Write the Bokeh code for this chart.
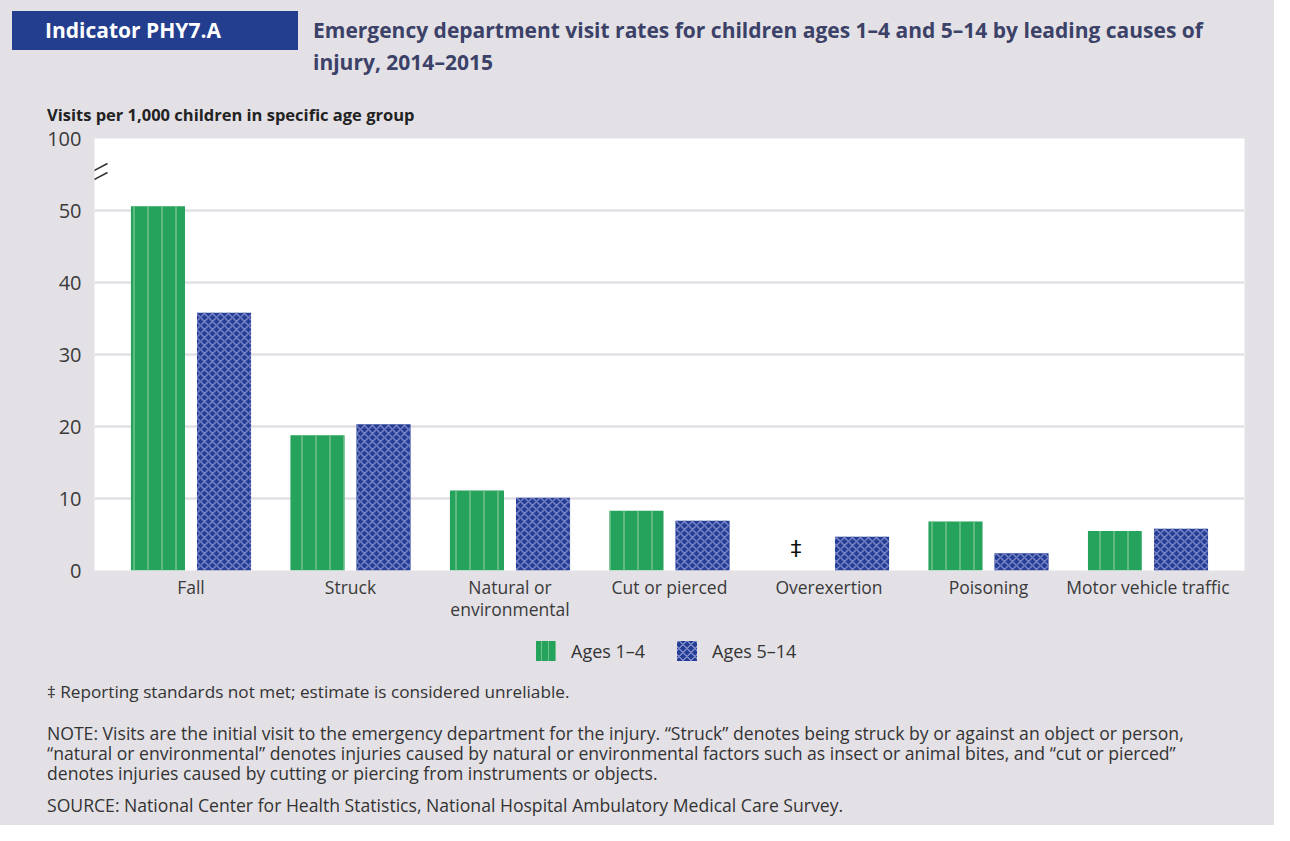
from bokeh.plotting import figure
from bokeh.layouts import column
from bokeh.models import FixedTicker, Arrow, ColumnDataSource, Div, LinearAxis
from bokeh.core.properties import value
from bokeh.embed import file_html
from bokeh.resources import INLINE

# ---------------- data ----------------
categories = ["Fall", "Struck", "Natural or\nenvironmental", "Cut or pierced",
              "Overexertion", "Poisoning", "Motor vehicle traffic"]
ages_1_4 = [50.6, 18.8, 11.1, 8.3, None, 6.8, 5.5]
ages_5_14 = [35.8, 20.3, 10.1, 6.9, 4.7, 2.4, 5.8]
series_names = ["Ages 1\u20134", "Ages 5\u201314"]
y_ticks = [0, 10, 20, 30, 40, 50, 60]
y_tick_labels = ["0", "10", "20", "30", "40", "50", "100"]
unreliable_mark = "\u2021"

header_label = "Indicator PHY7.A"
title_lines = ["Emergency department visit rates for children ages 1\u20134 and 5\u201314 by leading causes of",
               "injury, 2014\u20132015"]
y_title = "Visits per 1,000 children in specific age group"
footnote = "\u2021 Reporting standards not met; estimate is considered unreliable."
note_lines = [
    "NOTE: Visits are the initial visit to the emergency department for the injury. \u201cStruck\u201d denotes being struck by or against an object or person,",
    "\u201cnatural or environmental\u201d denotes injuries caused by natural or environmental factors such as insect or animal bites, and \u201ccut or pierced\u201d",
    "denotes injuries caused by cutting or piercing from instruments or objects.",
]
source_line = "SOURCE: National Center for Health Statistics, National Hospital Ambulatory Medical Care Survey."

# ---------------- layout ----------------
W = 1274
BG = "#e3e1e6"
FONT = "Open Sans"
GREEN, GREEN_H = "#25a25b", "#72c28c"
BLUE, BLUE_H = "#243e96", "#7c86c6"
X0, X1 = -0.605, 6.605
Y0, Y1 = 0, 60
FL, FT, FW, FH = 94, 138, 1150, 432   # frame position/size in page px
HEAD_H = 125                          # header div height
FIG_BOTTOM = 632                      # page y where figure ends
FOOT_H = 825 - FIG_BOTTOM


def px2x(X):
    return X0 + (X - FL) * (X1 - X0) / FW


def px2y(Y):
    return Y1 - (Y - FT) * (Y1 - Y0) / FH


def txt(x, y, s, size, color, bold=False):
    w = "bold" if bold else "normal"
    return (f'<div style="position:absolute;left:{x}px;top:{y}px;transform:translateY(-50%);'
            f'white-space:nowrap;line-height:1;font-family:\'{FONT}\';font-size:{size}px;'
            f'font-weight:{w};color:{color};">{s}</div>')


def block(x, top, lines, size, color, lh):
    return (f'<div style="position:absolute;left:{x}px;top:{top}px;white-space:nowrap;'
            f'line-height:{lh}px;font-family:\'{FONT}\';font-size:{size}px;color:{color};">'
            + "<br>".join(lines) + '</div>')


def swatch(x, y, bg):
    return (f'<div style="position:absolute;left:{x}px;top:{y}px;width:20px;height:20px;'
            f'background:{bg};"></div>')


head_html = (f'<div style="position:relative;width:{W}px;height:{HEAD_H}px;background:{BG};">'
             f'<div style="position:absolute;left:12px;top:11px;width:286px;height:39px;background:#233e8f;"></div>'
             + txt(45, 30, header_label, 21, "#ffffff", True)
             + txt(313, 30, title_lines[0], 21, "#3c4168", True)
             + txt(313, 62, title_lines[1], 21, "#3c4168", True)
             + txt(47, 115, y_title, 16.5, "#222222", True)
             + '</div>')
header = Div(text=head_html, width=W, height=HEAD_H, margin=0, styles={"background-color": BG})

green_css = (f"repeating-linear-gradient(90deg, {GREEN} 0px, {GREEN} 5px, {GREEN_H} 5px, {GREEN_H} 6.5px, "
             f"{GREEN} 6.5px, {GREEN} 7px)")
blue_css = (f"repeating-linear-gradient(45deg, transparent 0px, transparent 4.2px, {BLUE_H} 4.2px, {BLUE_H} 5.6px), "
            f"repeating-linear-gradient(-45deg, {BLUE} 0px, {BLUE} 4.2px, {BLUE_H} 4.2px, {BLUE_H} 5.6px)")

foot_html = f'<div style="position:relative;width:{W}px;height:{FOOT_H}px;background:{BG};">'
foot_html += swatch(536, 641 - FIG_BOTTOM, green_css) + txt(571, 651 - FIG_BOTTOM, series_names[0], 18, "#333333")
foot_html += swatch(677, 641 - FIG_BOTTOM, blue_css) + txt(712, 651 - FIG_BOTTOM, series_names[1], 18, "#333333")
foot_html += txt(47, 692 - FIG_BOTTOM, footnote, 17.2, "#333333")
foot_html += block(47, 723 - FIG_BOTTOM, note_lines, 17.6, "#333333", 20)
foot_html += txt(47, 806 - FIG_BOTTOM, source_line, 17.6, "#333333")
foot_html += '</div>'
footer = Div(text=foot_html, width=W, height=FOOT_H, margin=0, styles={"background-color": BG})

p = figure(frame_width=FW, frame_height=FH, output_backend="svg", toolbar_location=None,
           x_range=(X0, X1), y_range=(Y0, Y1),
           min_border_left=FL, min_border_right=W - FL - FW,
           min_border_top=FT - HEAD_H, min_border_bottom=FIG_BOTTOM - (FT + FH))
p.background_fill_color = "white"
p.border_fill_color = BG
p.outline_line_color = None

# y axis
p.yaxis.ticker = FixedTicker(ticks=y_ticks)
p.yaxis.major_label_overrides = {t: l for t, l in zip(y_ticks, y_tick_labels)}
p.yaxis.axis_line_color = None
p.yaxis.major_tick_line_color = None
p.yaxis.minor_tick_line_color = None
p.yaxis.major_label_standoff = 7
p.yaxis.major_label_text_font = FONT
p.yaxis.major_label_text_font_size = "20px"
p.yaxis.major_label_text_color = "#3a3a3a"

# x axes: first line of each category, then second lines on a second axis
idx = list(range(len(categories)))
line1 = {i: c.split("\n")[0] for i, c in zip(idx, categories)}
line2 = {i: c.split("\n")[1] for i, c in zip(idx, categories) if "\n" in c}


def style_x(ax, standoff):
    ax.axis_line_color = None
    ax.major_tick_line_color = None
    ax.minor_tick_line_color = None
    ax.major_tick_out = 0
    ax.major_tick_in = 0
    ax.minor_tick_out = 0
    ax.axis_label_standoff = 0
    ax.major_label_standoff = standoff
    ax.major_label_text_font = FONT
    ax.major_label_text_font_size = "17.5px"
    ax.major_label_text_color = "#3a3a3a"


p.xaxis.ticker = FixedTicker(ticks=idx)
p.xaxis.major_label_overrides = line1
style_x(p.xaxis[0], 4)
ax2 = LinearAxis(ticker=FixedTicker(ticks=list(line2.keys())), major_label_overrides=line2)
style_x(ax2, -5)
p.add_layout(ax2, "below")

p.xgrid.visible = False
p.ygrid.ticker = FixedTicker(ticks=[10, 20, 30, 40, 50])
p.ygrid.grid_line_color = "#e2e0e6"
p.ygrid.grid_line_width = 2.5

# bars
off, bw = 0.207, 0.339
g_src = ColumnDataSource(dict(x=[i - off for i, v in zip(idx, ages_1_4) if v is not None],
                              top=[v for v in ages_1_4 if v is not None]))
b_src = ColumnDataSource(dict(x=[i + off for i in idx], top=ages_5_14))
g = p.vbar(x="x", top="top", width=bw, source=g_src, fill_color=GREEN, line_color=None,
           hatch_pattern="vertical_line", hatch_color=GREEN_H, hatch_scale=14, hatch_weight=1.5)
b = p.vbar(x="x", top="top", width=bw, source=b_src, fill_color=BLUE, line_color=None,
           hatch_pattern="diagonal_cross", hatch_color=BLUE_H, hatch_scale=8, hatch_weight=1.4)

# unreliable mark
miss = [i - off for i, v in zip(idx, ages_1_4) if v is None]
p.text(x=miss, y=[3.1] * len(miss), text=[unreliable_mark] * len(miss), text_align="center",
       text_baseline="middle", text_font_size="22px", text_color="#111111",
       text_font=value("DejaVu Sans"))

# axis break
for ys, ye in [(174, 163), (183, 172)]:
    p.add_layout(Arrow(end=None, x_start=px2x(86), y_start=px2y(ys), x_end=px2x(107), y_end=px2y(ye),
                       line_color="#333333", line_width=1.5))

layout = column(header, p, footer, spacing=0, styles={"background-color": BG})
open("out.html", "w").write(file_html(layout, INLINE))
